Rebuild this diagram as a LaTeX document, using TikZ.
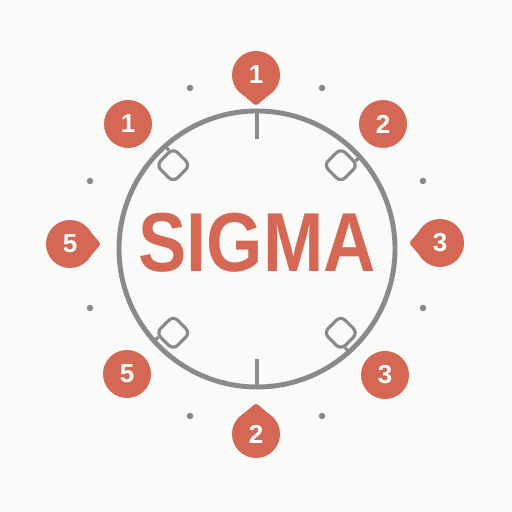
\documentclass[tikz,border=0pt]{standalone}
\usepackage{fontspec}
\setmainfont{Liberation Sans}
\usetikzlibrary{calc}
\definecolor{sigmared}{RGB}{212,104,84}
\definecolor{ringgray}{RGB}{138,138,138}
\definecolor{paper}{RGB}{250,250,249}

\begin{document}
\begin{tikzpicture}[
    badge/.style={circle,fill=sigmared,minimum size=0.48cm,inner sep=0pt,outer sep=0pt,
        text=white,font=\fontsize{7.4}{8}\selectfont\bfseries},
    dot/.style={circle,fill=ringgray,minimum size=0.065cm,inner sep=0pt},
    notch/.style={draw=ringgray,line width=0.9pt,rounded corners=1.8pt,minimum size=0.24cm,inner sep=0pt}
]
    % Page
    \fill[paper] (0,0) rectangle (5.12,5.12);
    \useasboundingbox (0,0) rectangle (5.12,5.12);

    % Ring and title
    \node[circle,draw=ringgray,line width=1.4pt,minimum size=2.76cm,outer sep=0pt] (ring) at (2.57,2.63) {};
    \node[text=sigmared,font=\fontsize{23.8}{26}\selectfont\bfseries] (title) at (2.57,2.69) {\scalebox{0.865}[1]{SIGMA}};

    % Ticks at top and bottom
    \draw[ringgray,line width=1.3pt] (ring.north) -- ++(0,-0.28);
    \draw[ringgray,line width=1.3pt] (ring.south) -- ++(0,0.28);

    % Small squares on the diagonals
    \foreach \a in {45,135,225,315} {
        \node[notch,rotate=\a] (sq\a) at ($(ring.center)+(\a:1.185)$) {};
        \draw[ringgray,line width=0.9pt] ($(sq\a.east)!0.55!(sq\a.south east)$) -- ++(\a:0.07);
    }

    % Dots
    \foreach \x/\y [count=\k] in {1.90/4.24,3.22/4.24,0.90/3.31,4.23/3.31,0.90/2.04,4.23/2.04,1.90/0.96,3.22/0.96} {
        \node[dot] (d\k) at (\x,\y) {};
    }

    % Round badges
    \node[badge] (ul) at (1.28,3.88) {1};
    \node[badge] (ur) at (3.83,3.88) {2};
    \node[badge] (ll) at (1.27,1.38) {5};
    \node[badge] (lr) at (3.85,1.37) {3};

    % Drop badges
    \foreach \n/\x/\y/\d/\t in {top/2.56/4.37/-90/1,left/0.70/2.68/0/5,right/4.40/2.69/180/3,bot/2.56/0.78/90/2} {
        \fill[sigmared,rounded corners=0.8pt] ($(\x,\y)+(\d+40:0.235)$) -- ($(\x,\y)+(\d:0.31)$) -- ($(\x,\y)+(\d-40:0.235)$) -- cycle;
        \node[badge] (\n) at (\x,\y) {\t};
    }
\end{tikzpicture}
\end{document}
